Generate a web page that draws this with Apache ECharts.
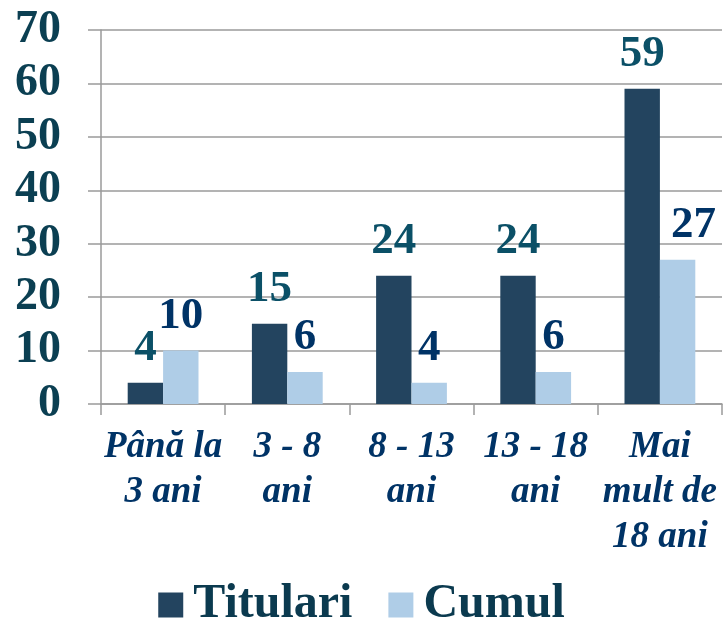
<!DOCTYPE html>
<html>
<head>
<meta charset="utf-8">
<script src="https://cdn.jsdelivr.net/npm/echarts@6/dist/echarts.min.js"></script>
<style>
  html, body { margin: 0; padding: 0; background: #fff; }
  #chart { width: 723px; height: 620px; }
</style>
</head>
<body>
<div id="chart"></div>
<script>
  // categories and values
  var categories = ['Până la\n3 ani', '3 - 8\nani', '8 - 13\nani', '13 - 18\nani', 'Mai\nmult de\n18 ani']
  var titulari = [4, 15, 24, 24, 59]
  var cumul = [10, 6, 4, 6, 27]
  var seriesNames = ['Titulari', 'Cumul']

  var serif = "'Liberation Serif', 'Times New Roman', serif"

  // the last Cumul label sits a bit to the right in the original
  var cumulData = cumul.map(function (v, i) {
    return i === cumul.length - 1 ? { value: v, label: { offset: [16, 0] } } : v
  })

  var chart = echarts.init(document.getElementById('chart'))
  chart.setOption({
    animation: false,
    grid: { left: 101, right: 1, top: 30, bottom: 216 },
    legend: {
      data: seriesNames,
      left: 'center',
      top: 576,
      itemWidth: 25,
      itemHeight: 25,
      itemGap: 36,
      icon: 'rect',
      textStyle: { fontFamily: serif, fontWeight: 'bold', fontSize: 48, color: '#0B3A4F', padding: [0, 0, 0, 5] }
    },
    xAxis: {
      type: 'category',
      data: categories,
      axisLine: { lineStyle: { color: '#9a9a9a', width: 1.5 } },
      axisTick: { show: true, length: 11, lineStyle: { color: '#9a9a9a', width: 1.5 } },
      axisLabel: {
        interval: 0,
        margin: 21,
        fontFamily: serif,
        fontWeight: 'bold',
        fontStyle: 'italic',
        fontSize: 37,
        lineHeight: 45,
        color: '#003366'
      }
    },
    yAxis: {
      type: 'value',
      min: 0,
      max: 70,
      interval: 10,
      axisLine: { show: true, lineStyle: { color: '#9a9a9a', width: 1.5 } },
      axisTick: { show: true, length: 13, lineStyle: { color: '#9a9a9a', width: 1.5 } },
      splitLine: { lineStyle: { color: '#9a9a9a', width: 1.5 } },
      axisLabel: {
        margin: 40,
        fontFamily: serif,
        fontWeight: 'bold',
        fontSize: 46,
        color: '#0B3F52'
      }
    },
    series: [
      {
        name: seriesNames[0],
        type: 'bar',
        data: titulari,
        barGap: '0%',
        barCategoryGap: '43%',
        itemStyle: { color: '#23445F' },
        label: {
          show: true,
          position: 'top',
          distance: 12,
          fontFamily: serif,
          fontWeight: 'bold',
          fontSize: 45,
          color: '#0B5067'
        }
      },
      {
        name: seriesNames[1],
        type: 'bar',
        data: cumulData,
        itemStyle: { color: '#AFCDE7' },
        label: {
          show: true,
          position: 'top',
          distance: 12,
          fontFamily: serif,
          fontWeight: 'bold',
          fontSize: 45,
          color: '#003366'
        }
      }
    ]
  })
</script>
</body>
</html>
